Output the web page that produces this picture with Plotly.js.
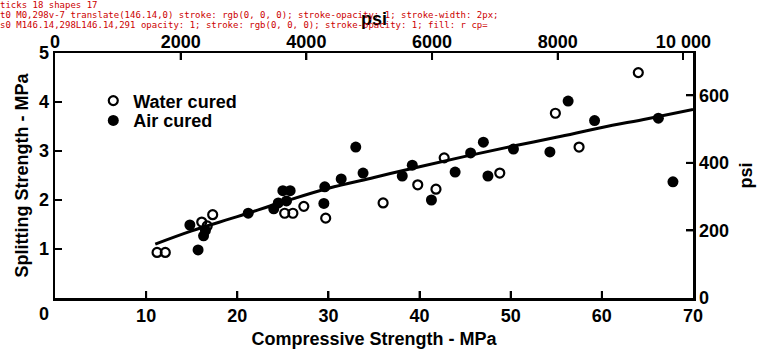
<!DOCTYPE html>
<html>
<head>
<meta charset="utf-8">
<script src="https://cdn.plot.ly/plotly-3.0.1.min.js"></script>
<style>html,body{margin:0;padding:0;background:#fff;}#chart{width:767px;height:355px;}#dbg{position:absolute;left:0;top:0;font:9px monospace;color:#c00;white-space:pre;pointer-events:none}</style>
</head>
<body>
<div id="chart"></div>
<div id="dbg"></div>
<script>
window.onerror = function(m){ document.getElementById('dbg').textContent += 'ERR ' + m + '\n'; };
// Water cured (open circles): compressive strength MPa, splitting strength MPa
const waterX = [11.2, 12.1, 16.1, 16.7, 17.3, 25.2, 26.1, 27.3, 29.7, 36.0, 39.8, 41.8, 42.7, 48.8, 54.9, 57.5, 64.0];
const waterY = [0.93, 0.93, 1.55, 1.47, 1.70, 1.73, 1.73, 1.87, 1.63, 1.94, 2.31, 2.22, 2.86, 2.55, 3.77, 3.08, 4.60];
// Air cured (filled circles)
const airX = [15.7, 14.8, 16.3, 16.5, 21.2, 24.0, 24.5, 25.0, 25.8, 25.4, 29.6, 29.5, 31.4, 33.0, 33.8, 38.1, 39.2, 41.3, 43.9, 45.6, 47.0, 47.5, 50.3, 54.3, 56.3, 59.2, 66.2, 67.8];
const airY = [0.98, 1.49, 1.27, 1.38, 1.73, 1.82, 1.94, 2.19, 2.19, 1.98, 2.27, 1.93, 2.43, 3.08, 2.55, 2.49, 2.71, 2.00, 2.57, 2.96, 3.18, 2.49, 3.04, 2.98, 4.02, 3.62, 3.67, 2.37];
// Fitted curve
const fitX = [11, 15, 20, 25, 30, 35, 40, 45, 50, 55, 60, 65, 70];
const fitY = [1.10, 1.37, 1.66, 1.96, 2.24, 2.46, 2.68, 2.89, 3.09, 3.28, 3.48, 3.66, 3.85];
// Axes
const xTicks = [10, 20, 30, 40, 50, 60, 70];
const yTicks = [1, 2, 3, 4, 5];
const psiTopTicks = [0, 2000, 4000, 6000, 8000, 10000];
const psiTopLabels = ['0', '2000', '4000', '6000', '8000', '10 000'];
const psiRightTicks = [0, 200, 400, 600];
const MPA_TO_PSI = 145.04;

const F = 'Liberation Sans, Arial, sans-serif';
const fnt = {family: F, size: 18, color: '#000', weight: 'bold'};

const traces = [
  {x: fitX, y: fitY, mode: 'lines', line: {color: '#000', width: 3, shape: 'spline'}, showlegend: false, hoverinfo: 'skip'},
  {x: waterX, y: waterY, mode: 'markers', name: 'Water cured', legend: 'legend',
   marker: {symbol: 'circle-open', size: 9, color: '#000', line: {width: 2.2, color: '#000'}}},
  {x: airX, y: airY, mode: 'markers', name: 'Air cured', legend: 'legend2',
   marker: {symbol: 'circle', size: 11, color: '#000'}},
  {x: [], y: [], xaxis: 'x2', yaxis: 'y2', showlegend: false}
];

const axCommon = {ticks: 'inside', ticklen: 7, tickwidth: 2, tickcolor: '#000', showline: true, linewidth: 2.5,
                  linecolor: '#000', showgrid: false, zeroline: false, tickfont: fnt};

const TL = 7;
const tickLine = {color: '#000', width: 2};
const tickShapes = []
  .concat(xTicks.filter(v => v < 70).map(v => ({type: 'line', xref: 'x', yref: 'paper', ysizemode: 'pixel', yanchor: 0,
      x0: v, x1: v, y0: 0, y1: TL, line: tickLine})))
  .concat(psiTopTicks.filter(v => v > 0 && v < 10000).map(v => ({type: 'line', xref: 'x2', yref: 'paper', ysizemode: 'pixel', yanchor: 1,
      x0: v, x1: v, y0: 0, y1: -TL, line: tickLine})))
  .concat(yTicks.filter(v => v < 5).map(v => ({type: 'line', xref: 'paper', yref: 'y', xsizemode: 'pixel', xanchor: 0,
      x0: 0, x1: TL, y0: v, y1: v, line: tickLine})))
  .concat(psiRightTicks.filter(v => v > 0).map(v => ({type: 'line', xref: 'paper', yref: 'y2', xsizemode: 'pixel', xanchor: 1,
      x0: 0, x1: -TL, y0: v, y1: v, line: tickLine})));

const layout = {
  width: 767, height: 355,
  margin: {l: 55, r: 74, t: 53, b: 57},
  paper_bgcolor: '#fff', plot_bgcolor: '#fff',
  font: fnt,
  showlegend: true,
  legend: {x: 0.06, y: 0.88, xanchor: 'left', yanchor: 'top', font: fnt, bgcolor: 'rgba(0,0,0,0)'},
  legend2: {x: 0.06, y: 0.799, xanchor: 'left', yanchor: 'top', font: fnt, bgcolor: 'rgba(0,0,0,0)'},
  xaxis: Object.assign({}, axCommon, {range: [0, 70], tickvals: xTicks,
          title: {text: 'Compressive Strength - MPa', font: fnt, standoff: 8}}),
  yaxis: Object.assign({}, axCommon, {range: [0, 5], tickvals: yTicks,
          title: {text: 'Splitting Strength - MPa', font: fnt, standoff: 6}}),
  xaxis2: Object.assign({}, axCommon, {overlaying: 'x', side: 'top', range: [0, 70 * MPA_TO_PSI],
           tickvals: psiTopTicks, ticktext: psiTopLabels, ticklabelstandoff: -5,
           title: {text: 'psi', font: fnt, standoff: 2}}),
  yaxis2: Object.assign({}, axCommon, {overlaying: 'y', side: 'right', range: [0, 5 * MPA_TO_PSI],
           tickvals: psiRightTicks, title: {text: 'psi', font: fnt, standoff: 12}}),
  shapes: tickShapes,
  annotations: [
    {xref: 'paper', yref: 'paper', x: 0, y: 0, xanchor: 'right', yanchor: 'top', xshift: -4, yshift: -4,
     text: '0', showarrow: false, font: fnt}
  ]
};

Plotly.newPlot('chart', traces, layout, {displayModeBar: false, staticPlot: true}).then(function(){
  const d = document.getElementById('dbg');
  const t = document.querySelectorAll('path.xtick, path.ytick, path.x2tick, path.y2tick');
  const s = document.querySelectorAll('.shapelayer path');
  let out = 'ticks ' + t.length + ' shapes ' + s.length + '\n';
  if (t.length) out += 't0 ' + t[0].getAttribute('d') + ' ' + t[0].getAttribute('transform') + ' ' + (t[0].getAttribute('style')||'').slice(0,60) + '\n';
  if (s.length) out += 's0 ' + s[0].getAttribute('d') + ' ' + (s[0].getAttribute('style')||'').slice(0,60) + ' cp=' + (s[0].getAttribute('clip-path')||'') + '\n';
  d.textContent += out;
}).catch(function(e){ document.getElementById('dbg').textContent += 'CATCH ' + e + '\n'; });
</script>
</body>
</html>
